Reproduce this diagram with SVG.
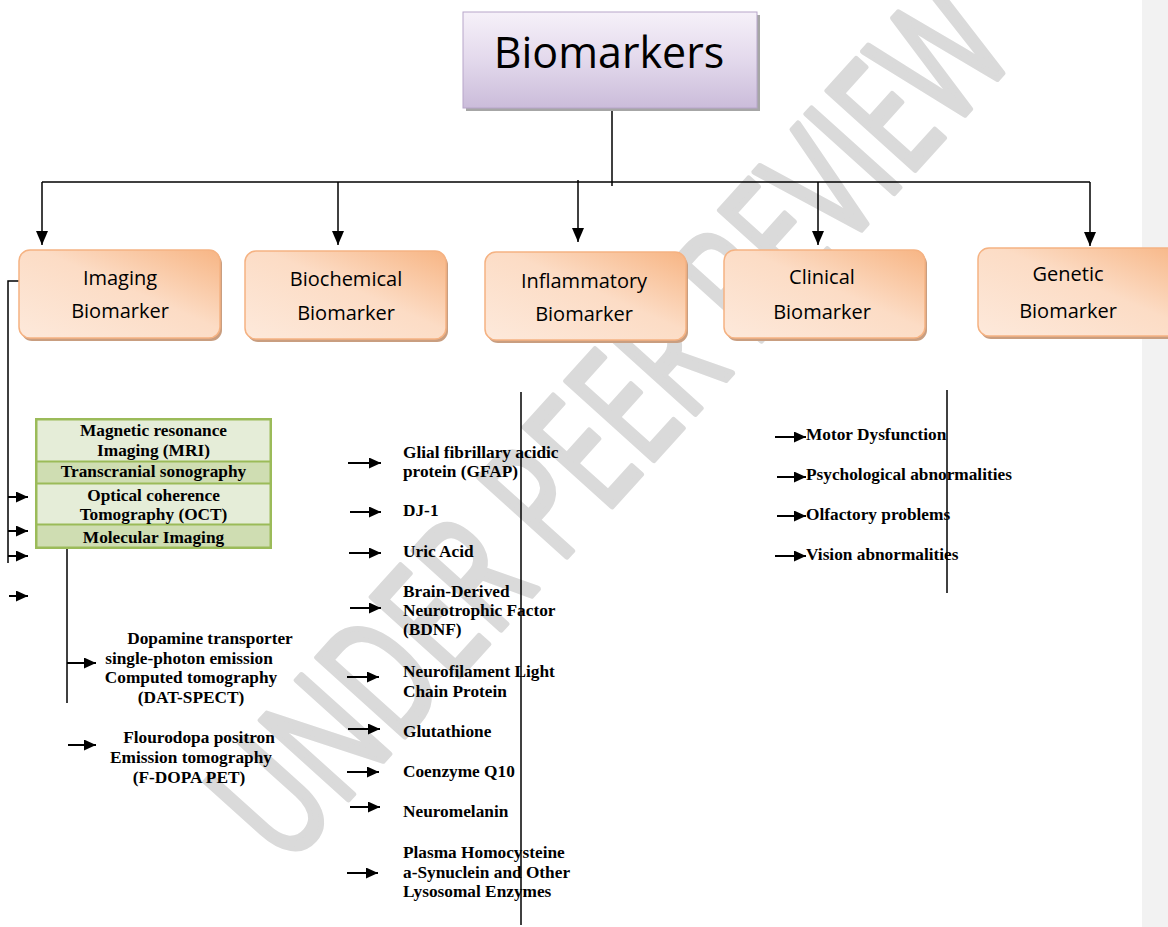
<svg xmlns="http://www.w3.org/2000/svg" width="1168" height="927" viewBox="0 0 1168 927">
<defs>
<linearGradient id="pg" x1="0" y1="0" x2="0" y2="1">
<stop offset="0" stop-color="#f6f1f9"/>
<stop offset="0.5" stop-color="#e3d9ec"/>
<stop offset="1" stop-color="#cbbcda"/>
</linearGradient>
<linearGradient id="og" x1="1" y1="0" x2="0" y2="1">
<stop offset="0" stop-color="#f7b584"/>
<stop offset="0.45" stop-color="#fcdcc5"/>
<stop offset="1" stop-color="#fde9db"/>
</linearGradient>
<marker id="ah" viewBox="0 0 12 14" refX="6" refY="14" markerWidth="12" markerHeight="14" markerUnits="userSpaceOnUse" orient="0">
<path d="M0,0 L12,0 L6,14 z" fill="#000"/>
</marker>
<marker id="sa" viewBox="0 0 12 11" refX="12" refY="5.5" markerWidth="12" markerHeight="11" markerUnits="userSpaceOnUse" orient="auto">
<path d="M0,0 L12,5.5 L0,11 z" fill="#000"/>
</marker>
<style>
.ln{stroke:#000;stroke-width:1.5;fill:none}
.ar{stroke:#000;stroke-width:2;fill:none;marker-end:url(#sa)}
.dn{stroke:#000;stroke-width:1.5;fill:none;marker-end:url(#ah)}
.ob{fill:url(#og);stroke:#f5b282;stroke-width:1.5}
.os{fill:#c99e80}
.ot{font-family:"Open Sans","Noto Sans",sans-serif;font-size:20px;fill:#000;text-anchor:middle}
.tb{font-family:"Liberation Serif","Times New Roman",serif;font-size:17.3px;font-weight:bold;fill:#000}
.c{text-anchor:middle}
.g1{fill:#e5edd8}
.g2{fill:#cfddb2}
</style>
</defs>
<rect x="0" y="0" width="1168" height="927" fill="#fff"/>
<rect x="1142" y="0" width="26" height="927" fill="#f2f2f2"/>

<g id="watermark">
<text transform="translate(652,462) rotate(-48) scale(0.68,1)" text-anchor="middle" font-family="Open Sans,Noto Sans,sans-serif" font-size="165" fill="#dadada" stroke="#dadada" stroke-width="6" stroke-linejoin="round">UNDER PEER REVIEW</text>
</g>

<g id="connectors">
<line class="ln" x1="612" y1="108" x2="612" y2="186"/>
<line class="ln" x1="42" y1="182" x2="1090" y2="182"/>
<line class="dn" x1="42" y1="182" x2="42" y2="245"/>
<line class="dn" x1="338" y1="182" x2="338" y2="245"/>
<line class="dn" x1="578" y1="180" x2="578" y2="242"/>
<line class="dn" x1="818" y1="182" x2="818" y2="245"/>
<line class="dn" x1="1090" y1="182" x2="1090" y2="246"/>
<polyline class="ln" points="20,281 8,281 8,563"/>
<line class="ar" x1="8" y1="497" x2="28" y2="497"/>
<line class="ar" x1="8" y1="531" x2="28" y2="531"/>
<line class="ar" x1="8" y1="556" x2="28" y2="556"/>
<line class="ar" x1="9" y1="596" x2="28" y2="596"/>
<line class="ln" x1="67" y1="549" x2="67" y2="703"/>
<line class="ar" x1="67" y1="663" x2="96" y2="663"/>
<line class="ar" x1="68" y1="745" x2="96" y2="745"/>
<line class="ln" x1="521" y1="392" x2="521" y2="925"/>
<line class="ar" x1="348" y1="463" x2="381" y2="463"/>
<line class="ar" x1="350" y1="512" x2="381" y2="512"/>
<line class="ar" x1="349" y1="553" x2="381" y2="553"/>
<line class="ar" x1="350" y1="608" x2="381" y2="608"/>
<line class="ar" x1="347" y1="677" x2="379" y2="677"/>
<line class="ar" x1="348" y1="729" x2="380" y2="729"/>
<line class="ar" x1="347" y1="772" x2="379" y2="772"/>
<line class="ar" x1="350" y1="807" x2="380" y2="807"/>
<line class="ar" x1="347" y1="873" x2="378" y2="873"/>
<line class="ln" x1="947" y1="390" x2="947" y2="593"/>
<line class="ar" x1="775" y1="437" x2="806" y2="437"/>
<line class="ar" x1="777" y1="477" x2="806" y2="477"/>
<line class="ar" x1="777" y1="516" x2="806" y2="516"/>
<line class="ar" x1="775" y1="556" x2="806" y2="556"/>
</g>

<g id="root">
<rect x="466" y="15" width="294" height="96" fill="#a6a6a6"/>
<rect x="463" y="12" width="294" height="96" fill="url(#pg)" stroke="#b7a6ca" stroke-width="1"/>
<text x="609" y="68" font-family="Open Sans,Noto Sans,sans-serif" font-size="43" text-anchor="middle" fill="#000">Biomarkers</text>
</g>

<g id="imaging">
<rect class="os" x="21" y="253" width="201" height="88" rx="11"/>
<rect class="ob" x="19" y="250" width="201" height="88" rx="11"/>
<text class="ot" x="120" y="285">Imaging</text>
<text class="ot" x="120" y="318">Biomarker</text>
</g>
<g id="biochemical">
<rect class="os" x="247" y="254" width="201" height="88" rx="11"/>
<rect class="ob" x="245" y="251" width="201" height="88" rx="11"/>
<text class="ot" x="346" y="286">Biochemical</text>
<text class="ot" x="346" y="320">Biomarker</text>
</g>
<g id="inflammatory">
<rect class="os" x="487" y="255" width="201" height="88" rx="11"/>
<rect class="ob" x="485" y="252" width="201" height="88" rx="11"/>
<text class="ot" x="584" y="288">Inflammatory</text>
<text class="ot" x="584" y="321">Biomarker</text>
</g>
<g id="clinical">
<rect class="os" x="726" y="253" width="201" height="88" rx="11"/>
<rect class="ob" x="724" y="250" width="201" height="88" rx="11"/>
<text class="ot" x="822" y="284">Clinical</text>
<text class="ot" x="822" y="319">Biomarker</text>
</g>
<g id="genetic">
<rect class="os" x="980" y="251" width="210" height="88" rx="11"/>
<rect class="ob" x="978" y="248" width="210" height="88" rx="11"/>
<text class="ot" x="1068" y="281">Genetic</text>
<text class="ot" x="1068" y="318">Biomarker</text>
</g>

<g id="imaging-table">
<rect x="35" y="418" width="237" height="131" fill="#9bbb59"/>
<rect class="g1" x="37.5" y="420.5" width="232" height="40"/>
<rect class="g2" x="37.5" y="462.5" width="232" height="20"/>
<rect class="g1" x="37.5" y="484.5" width="232" height="39"/>
<rect class="g2" x="37.5" y="525.5" width="232" height="21"/>
<text class="tb c" x="153.5" y="436">Magnetic resonance</text>
<text class="tb c" x="153.5" y="456">Imaging (MRI)</text>
<text class="tb c" x="153.5" y="477">Transcranial sonography</text>
<text class="tb c" x="153.5" y="501">Optical coherence</text>
<text class="tb c" x="153.5" y="520">Tomography (OCT)</text>
<text class="tb c" x="153.5" y="543">Molecular Imaging</text>
</g>

<g id="dat-spect">
<text class="tb c" x="210" y="644">Dopamine transporter</text>
<text class="tb c" x="189" y="664">single-photon emission</text>
<text class="tb c" x="191" y="683">Computed tomography</text>
<text class="tb c" x="191" y="703">(DAT-SPECT)</text>
</g>
<g id="f-dopa">
<text class="tb c" x="199" y="743">Flourodopa positron</text>
<text class="tb c" x="191" y="763">Emission tomography</text>
<text class="tb c" x="189" y="783">(F-DOPA PET)</text>
</g>

<g id="biochemical-list">
<text class="tb" x="403" y="458">Glial fibrillary acidic</text>
<text class="tb" x="403" y="477">protein (GFAP)</text>
<text class="tb" x="403" y="516">DJ-1</text>
<text class="tb" x="403" y="557">Uric Acid</text>
<text class="tb" x="403" y="597">Brain-Derived</text>
<text class="tb" x="403" y="616">Neurotrophic Factor</text>
<text class="tb" x="403" y="635">(BDNF)</text>
<text class="tb" x="403" y="677">Neurofilament Light</text>
<text class="tb" x="403" y="697">Chain Protein</text>
<text class="tb" x="403" y="737">Glutathione</text>
<text class="tb" x="403" y="777">Coenzyme Q10</text>
<text class="tb" x="403" y="817">Neuromelanin</text>
<text class="tb" x="403" y="858">Plasma Homocysteine</text>
<text class="tb" x="403" y="878">a-Synuclein and Other</text>
<text class="tb" x="403" y="897">Lysosomal Enzymes</text>
</g>

<g id="clinical-list">
<text class="tb" x="806" y="440">Motor Dysfunction</text>
<text class="tb" x="806" y="480">Psychological abnormalities</text>
<text class="tb" x="806" y="520">Olfactory problems</text>
<text class="tb" x="806" y="560">Vision abnormalities</text>
</g>
</svg>
